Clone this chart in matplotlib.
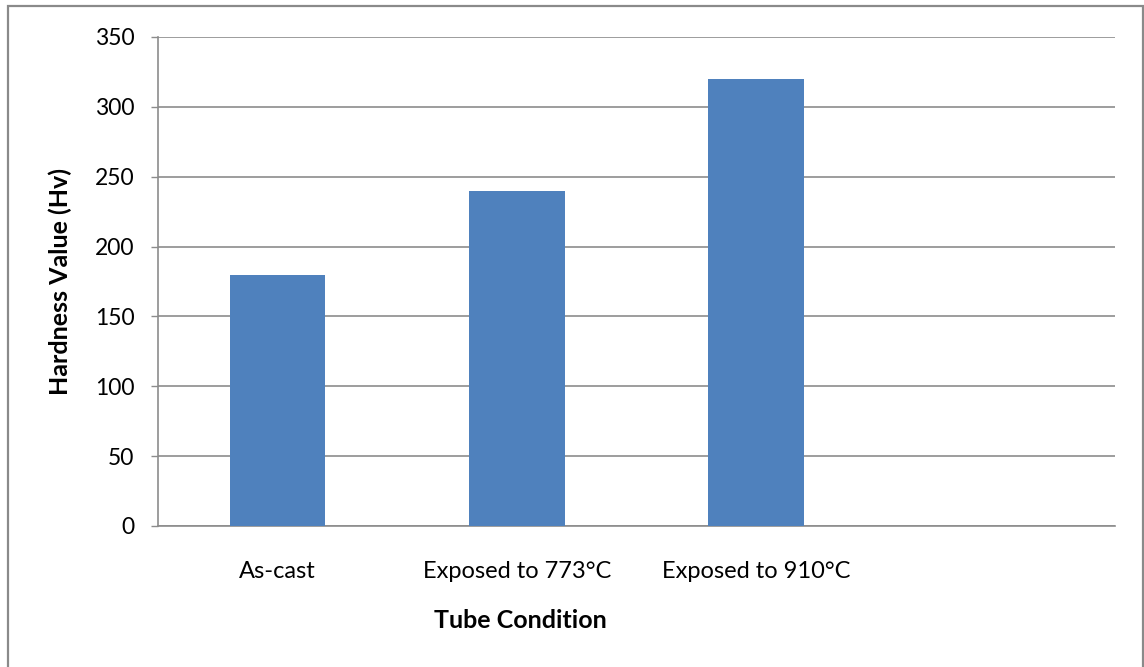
import matplotlib
matplotlib.use("Agg")
from matplotlib import pyplot as plt
from matplotlib.patches import Rectangle

conditions = ["As-cast", "Exposed to 773°C", "Exposed to 910°C", ""]
hardness = [180, 240, 320, 0]
yticks = [0, 50, 100, 150, 200, 250, 300, 350]

plt.rcParams["font.family"] = ["Lato", "DejaVu Sans"]

W, H = 1144, 667
fig = plt.figure(figsize=(W / 100, H / 100), dpi=100)
ax = fig.add_axes([158 / W, 1 - 526 / H, (1115 - 158) / W, (526 - 37) / H])

grey = "#8c8c8c"
pos = list(range(len(conditions)))
ax.bar(pos[:3], hardness[:3], width=0.4, color="#4f81bd", zorder=3)

ax.set_xlim(-0.5, len(conditions) - 0.5)
ax.set_ylim(0, 350)
ax.set_yticks(yticks)
ax.set_yticklabels([str(v) for v in yticks], fontsize=16.5)
ax.set_xticks(pos)
ax.set_xticklabels(conditions, fontsize=17)
ax.tick_params(axis="x", length=0, pad=25)
ax.tick_params(axis="y", length=5, width=1, color=grey, direction="out", pad=12)

ax.grid(axis="y", color=grey, linewidth=1.2, zorder=0)
for side in ["top", "right"]:
    ax.spines[side].set_visible(False)
for side in ["left", "bottom"]:
    ax.spines[side].set_color(grey)
    ax.spines[side].set_linewidth(1.2)

ax.set_ylabel("Hardness Value (Hv)", fontsize=18, fontweight="bold")
ax.yaxis.set_label_coords(-(158 - 60) / (1115 - 158), 0.5)
ax.yaxis.label.set_va("center")
ax.set_xlabel("Tube Condition", fontsize=18, fontweight="bold")
ax.xaxis.set_label_coords((520 - 158) / (1115 - 158), -(621 - 526) / (526 - 37))
ax.xaxis.label.set_va("center")

# chart border
fig.add_artist(Rectangle((8 / W, -0.05), (1143 - 8) / W, 1.05 - 6 / H,
                         transform=fig.transFigure, fill=False,
                         edgecolor="#8a8a8a", linewidth=1.6))

fig.savefig("out.png", dpi=100, facecolor="white")
